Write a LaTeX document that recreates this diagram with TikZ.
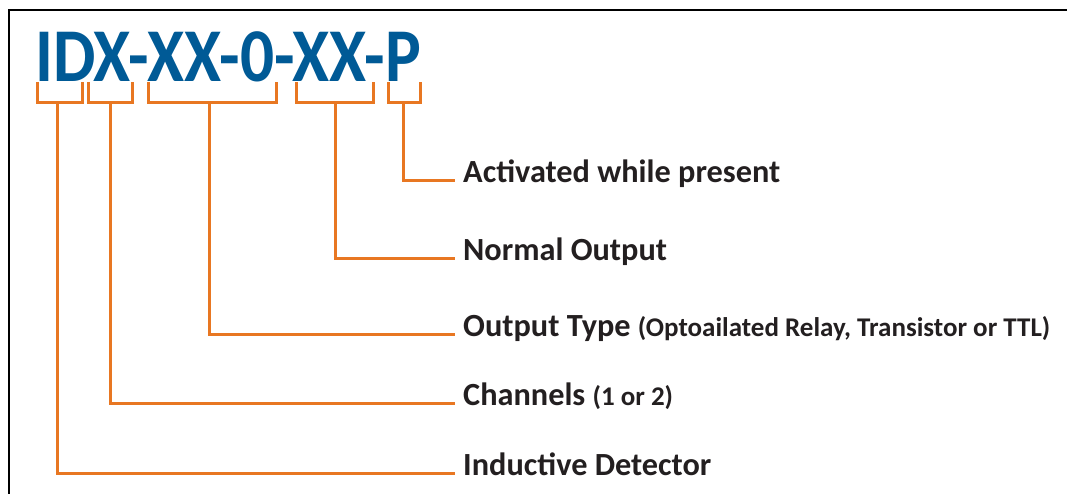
\documentclass[tikz,border=0pt]{standalone}
\usepackage{fontspec}
\setmainfont{Carlito}
\newfontfamily\codefont[FakeStretch=0.885]{Carlito}
\definecolor{idxblue}{RGB}{0,90,150}
\definecolor{idxorange}{RGB}{232,119,34}
\definecolor{idxtext}{RGB}{35,31,32}

\begin{document}
\begin{tikzpicture}
  [x=1pt,y=-1pt,
   every node/.style={inner sep=0pt,anchor=base west},
   bracket/.style={draw=idxorange,line width=3pt,line join=miter},
   desc/.style={font=\bfseries\fontsize{32.3}{36}\selectfont,text=idxtext},
   aside/.style={font=\fontsize{27}{30}\selectfont}]

  \useasboundingbox (0,0) rectangle (1067,494);
  \draw[line width=2.8pt,line join=miter] (1067,10) -- (9,10) -- (9,494);

  \node[text=idxblue,font=\codefont\bfseries\fontsize{76}{80}\selectfont] (code) at (35,82) {IDX-XX-0-XX-P};

  \node[desc] (act)  at (463,183) {Activated while present};
  \node[desc] (norm) at (463,260) {Normal Output};
  \node[desc] (outt) at (463,336) {Output Type {\fontsize{27}{30}\selectfont (Optoailated Relay, Transistor or TTL)}};
  \node[desc] (chan) at (463,405) {Channels {\fontsize{27}{30}\selectfont (1 or 2)}};
  \node[desc] (ind)  at (463,475) {Inductive Detector};

  % brackets under the code
  \foreach \l/\r/\m/\n in {37/82/57/b1, 88/132/110/b2, 148/276/209/b3, 296/373/335/b4, 388/420/403/b5}
  {
    \draw[bracket] (\l,82) -- (\l,103) -- (\r,103) -- (\r,82);
    \coordinate (\n) at (\m,103);
  }

  \foreach \n/\t in {b1/ind, b2/chan, b3/outt, b4/norm, b5/act}
    \draw[bracket] (\n) |- ([xshift=-8pt,yshift=2pt]\t.base west);
\end{tikzpicture}
\end{document}
